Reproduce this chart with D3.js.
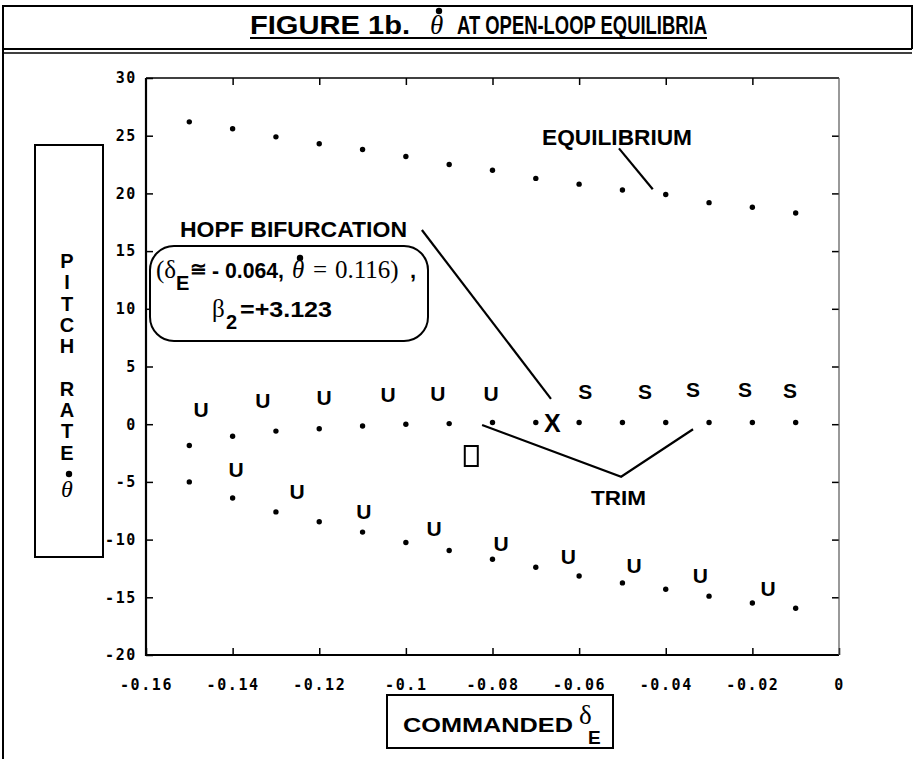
<!DOCTYPE html>
<html>
<head>
<meta charset="utf-8">
<script src="https://cdn.jsdelivr.net/npm/d3@7/dist/d3.min.js"></script>
<style>
body { margin: 0; background: #fff; }
.tick text { font-family: "DejaVu Sans Mono", monospace; font-weight: bold; font-size: 15px; fill: #000; }
.tick line { stroke: #000; stroke-width: 1.5; }
.lbl { font-family: "Liberation Sans", Arial, sans-serif; font-weight: bold; fill: #000; }
.ser { font-family: "Liberation Serif", "Times New Roman", serif; font-weight: normal; fill: #000; }
</style>
</head>
<body>
<div id="chart"></div>
<script>
// commanded elevator deflection
var deltaE = [-0.15, -0.14, -0.13, -0.12, -0.11, -0.10, -0.09, -0.08, -0.07, -0.06, -0.05, -0.04, -0.03, -0.02, -0.01];
// pitch rate at each equilibrium branch
var upperRate = [26.2, 25.6, 24.9, 24.3, 23.8, 23.2, 22.5, 22.0, 21.3, 20.8, 20.3, 19.9, 19.2, 18.8, 18.3];
var trimRate = [-1.85, -1.05, -0.6, -0.4, -0.15, 0.0, 0.05, 0.15, 0.15, 0.15, 0.15, 0.15, 0.15, 0.15, 0.15];
var lowerRate = [-5.0, -6.4, -7.6, -8.45, -9.35, -10.25, -10.95, -11.7, -12.4, -13.15, -13.75, -14.3, -14.9, -15.5, -15.95];

var xTicks = [-0.16, -0.14, -0.12, -0.1, -0.08, -0.06, -0.04, -0.02, 0];
var yTicks = [-20, -15, -10, -5, 0, 5, 10, 15, 20, 25, 30];

// stability marks (U = unstable, S = stable), in data coordinates
var upperU = [[-0.1473, 1.3], [-0.133, 2.1], [-0.1189, 2.35], [-0.1041, 2.55], [-0.0926, 2.7], [-0.0803, 2.7]];
var stableS = [[-0.0586, 2.8], [-0.0448, 2.8], [-0.0337, 3.05], [-0.0217, 3.05], [-0.0113, 2.95]];
var lowerU = [[-0.1392, -3.9], [-0.1251, -5.8], [-0.1097, -7.6], [-0.0935, -9.0], [-0.078, -10.3], [-0.0625, -11.5], [-0.0473, -12.2], [-0.032, -13.1], [-0.0164, -14.2]];
var hopfPoint = [-0.0662, 0.1];

var width = 915, height = 759;
var svg = d3.select("#chart").append("svg")
	.attr("width", width)
	.attr("height", height);

svg.append("rect").attr("width", width).attr("height", height).attr("fill", "#fff");

var x = d3.scaleLinear().domain([-0.16, 0]).range([146, 839]);
var y = d3.scaleLinear().domain([-20, 30]).range([655, 78]);

var fmt = function(d) { return String(+d.toFixed(2)); };

// page frame
var frame = svg.append("g").attr("stroke", "#000").attr("fill", "none");
frame.append("path").attr("stroke-width", 2).attr("d", "M3,759 V6 H912 V49");
frame.append("line").attr("stroke-width", 2).attr("x1", 3).attr("x2", 912).attr("y1", 49).attr("y2", 49);
frame.append("line").attr("stroke-width", 1.5).attr("x1", 3).attr("x2", 912).attr("y1", 53).attr("y2", 53);

// title
var title = svg.append("g");
title.append("text").attr("class", "lbl").attr("x", 250).attr("y", 34).style("font-size", "26px")
	.attr("textLength", 160).attr("lengthAdjust", "spacingAndGlyphs").text("FIGURE 1b.");
title.append("text").attr("class", "ser").attr("x", 430).attr("y", 34)
	.style("font-style", "italic").style("font-size", "27px").text("θ");
title.append("circle").attr("cx", 439).attr("cy", 11).attr("r", 3.2).attr("fill", "#000");
title.append("text").attr("class", "lbl").attr("x", 457).attr("y", 34).style("font-size", "26px")
	.attr("textLength", 250).attr("lengthAdjust", "spacingAndGlyphs").text("AT OPEN-LOOP EQUILIBRIA");
title.append("line").attr("x1", 250).attr("x2", 707).attr("y1", 38).attr("y2", 38).attr("stroke", "#000").attr("stroke-width", 2);

// axes with inward ticks on all four sides
var g = svg.append("g");
g.append("g").attr("transform", "translate(0,655)")
	.call(d3.axisBottom(x).tickValues(xTicks).tickFormat(fmt).tickSizeInner(-7).tickSizeOuter(0).tickPadding(24));
g.append("g").attr("transform", "translate(0,78)")
	.call(d3.axisTop(x).tickValues(xTicks.slice(1, -1)).tickFormat("").tickSizeInner(-7).tickSizeOuter(0));
g.append("g").attr("transform", "translate(146,0)")
	.call(d3.axisLeft(y).tickValues(yTicks).tickFormat(fmt).tickSizeInner(-7).tickSizeOuter(0).tickPadding(9));
g.append("g").attr("transform", "translate(839,0)")
	.call(d3.axisRight(y).tickValues(yTicks.slice(1, -1)).tickFormat("").tickSizeInner(-7).tickSizeOuter(0));
g.selectAll(".domain").remove();
g.selectAll(".tick text").attr("letter-spacing", "1.6px");

g.append("path").attr("fill", "none").attr("stroke", "#000").attr("stroke-width", 2.2)
	.attr("d", "M" + x(-0.16) + "," + y(30) + "V" + y(-20) + "H" + x(0));
g.append("path").attr("fill", "none").attr("stroke", "#000").attr("stroke-width", 1.5)
	.attr("d", "M" + x(-0.16) + "," + y(30) + "H" + x(0));
g.append("path").attr("fill", "none").attr("stroke", "#555").attr("stroke-width", 1.2)
	.attr("d", "M" + x(0) + "," + y(30) + "V" + y(-20));

// equilibrium points
var series = [upperRate, trimRate, lowerRate];
series.forEach(function(vals) {
	g.selectAll(null)
	.data(deltaE)
	.enter().append("circle")
	.attr("cx", function(d) { return x(d); })
	.attr("cy", function(d, i) { return y(vals[i]); })
	.attr("r", 2.7)
	.attr("fill", "#000");
});

// stability letters
var mark = function(arr, letter, size) {
	g.selectAll(null)
	.data(arr)
	.enter().append("text")
	.attr("class", "lbl")
	.attr("x", function(d) { return x(d[0]); })
	.attr("y", function(d) { return y(d[1]); })
	.attr("dy", "0.36em")
	.attr("text-anchor", "middle")
	.style("font-size", size)
	.text(letter);
};
mark(upperU, "U", "21px");
mark(lowerU, "U", "21px");
mark(stableS, "S", "21px");

g.append("text").attr("class", "lbl")
	.attr("x", x(hopfPoint[0])).attr("y", y(hopfPoint[1]))
	.attr("dy", "0.36em").attr("text-anchor", "middle")
	.style("font-size", "25px").text("X");

// stray glyph box
g.append("rect").attr("x", x(-0.0864)).attr("y", y(-1.89))
	.attr("width", 13).attr("height", 20)
	.attr("fill", "none").attr("stroke", "#000").attr("stroke-width", 2);

// callout lines
var line = d3.line().x(function(d) { return x(d[0]); }).y(function(d) { return y(d[1]); });
var callouts = [
	[[-0.0963, 16.83], [-0.0665, 2.19]],
	[[-0.0508, 23.9], [-0.043, 20.36]],
	[[-0.0824, -0.07], [-0.0503, -4.55], [-0.0337, -0.44]]
];
g.selectAll(null).data(callouts).enter().append("path")
	.attr("d", line).attr("fill", "none").attr("stroke", "#000").attr("stroke-width", 2.2);

g.append("text").attr("class", "lbl").attr("x", 180).attr("y", 237)
	.attr("textLength", 227).attr("lengthAdjust", "spacingAndGlyphs").style("font-size", "22px").text("HOPF BIFURCATION");
g.append("text").attr("class", "lbl").attr("x", 542).attr("y", 145)
	.attr("textLength", 150).attr("lengthAdjust", "spacingAndGlyphs").style("font-size", "22px").text("EQUILIBRIUM");
g.append("text").attr("class", "lbl").attr("x", 591).attr("y", 505)
	.attr("textLength", 55).attr("lengthAdjust", "spacingAndGlyphs").style("font-size", "21px").text("TRIM");

// hopf annotation box
var box = svg.append("g");
box.append("rect").attr("x", 150).attr("y", 246).attr("width", 278).attr("height", 95)
	.attr("rx", 24).attr("fill", "#fff").attr("stroke", "#000").attr("stroke-width", 2);
box.append("text").attr("class", "ser").attr("x", 156).attr("y", 278).style("font-size", "25px").text("(δ");
box.append("text").attr("class", "lbl").attr("x", 176).attr("y", 290).style("font-size", "20px").text("E");
box.append("text").attr("class", "lbl").attr("x", 190).attr("y", 276).style("font-size", "20px").text("≅");
box.append("text").attr("class", "lbl").attr("x", 212).attr("y", 278)
	.attr("textLength", 72).attr("lengthAdjust", "spacingAndGlyphs").style("font-size", "22px").text("- 0.064,");
box.append("text").attr("class", "ser").attr("x", 292).attr("y", 278).style("font-size", "25px").style("font-style", "italic").text("θ");
box.append("circle").attr("cx", 300).attr("cy", 258).attr("r", 3.2).attr("fill", "#000");
box.append("text").attr("class", "ser").attr("x", 313).attr("y", 278).style("font-size", "25px").text("=");
box.append("text").attr("class", "ser").attr("x", 335).attr("y", 278).style("font-size", "25px").text("0.116)");
box.append("text").attr("class", "lbl").attr("x", 410).attr("y", 278).style("font-size", "22px").text(",");
box.append("text").attr("class", "ser").attr("x", 212).attr("y", 317).style("font-size", "25px").text("β");
box.append("text").attr("class", "lbl").attr("x", 226).attr("y", 329).style("font-size", "20px").text("2");
box.append("text").attr("class", "lbl").attr("x", 240).attr("y", 317)
	.attr("textLength", 92).attr("lengthAdjust", "spacingAndGlyphs").style("font-size", "22px").text("=+3.123");

// y axis title box
var yb = svg.append("g");
yb.append("rect").attr("x", 35).attr("y", 145).attr("width", 68).attr("height", 412)
	.attr("fill", "#fff").attr("stroke", "#000").attr("stroke-width", 2);
var yLetters = ["P", "I", "T", "C", "H", "", "R", "A", "T", "E"];
yb.selectAll(null).data(yLetters).enter().append("text")
	.attr("class", "lbl")
	.attr("x", 67)
	.attr("y", function(d, i) { return 268 + i * 21.3; })
	.attr("text-anchor", "middle")
	.style("font-size", "20px")
	.text(function(d) { return d; });
yb.append("text").attr("class", "ser").attr("x", 67).attr("y", 497).attr("text-anchor", "middle")
	.style("font-size", "24px").style("font-style", "italic").text("θ");
yb.append("circle").attr("cx", 69).attr("cy", 474).attr("r", 3.2).attr("fill", "#000");

// x axis title box
var xb = svg.append("g");
xb.append("rect").attr("x", 387).attr("y", 695).attr("width", 226).attr("height", 53)
	.attr("fill", "#fff").attr("stroke", "#000").attr("stroke-width", 2);
xb.append("text").attr("class", "lbl").attr("x", 403).attr("y", 732)
	.attr("textLength", 170).attr("lengthAdjust", "spacingAndGlyphs").style("font-size", "21px").text("COMMANDED");
xb.append("text").attr("class", "ser").attr("x", 579).attr("y", 724).style("font-size", "27px").text("δ");
xb.append("text").attr("class", "lbl").attr("x", 588).attr("y", 744).style("font-size", "19px").text("E");
</script>
</body>
</html>
